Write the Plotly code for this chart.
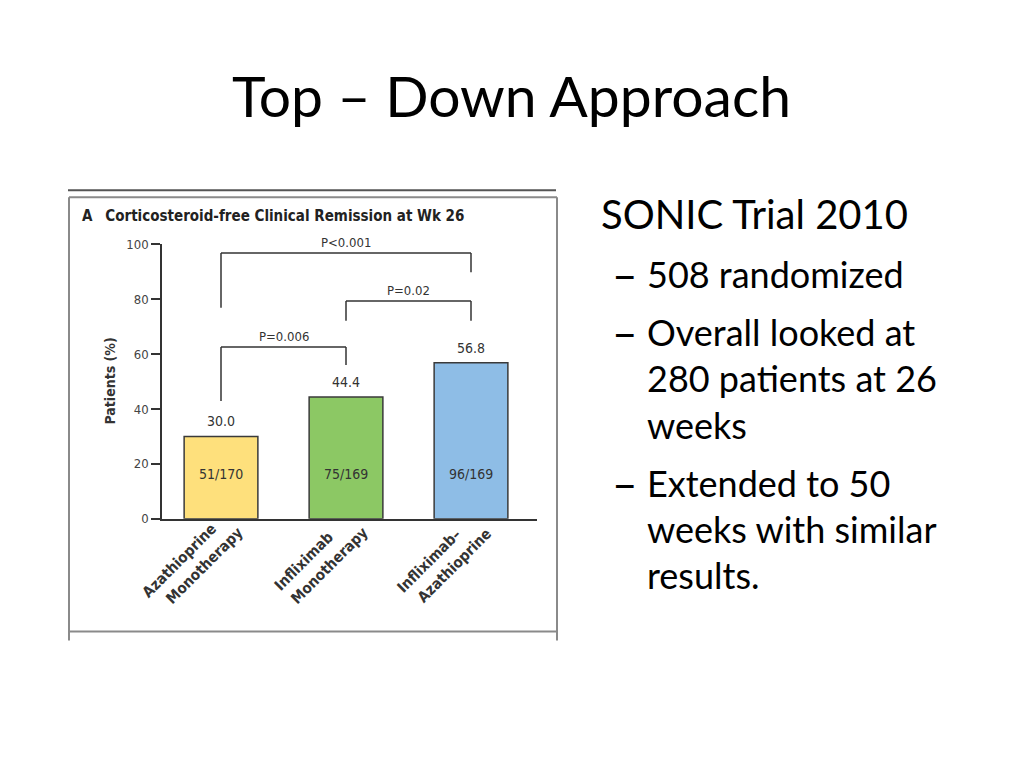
import plotly.graph_objects as go

# ---- data ----
categories = ["Azathioprine Monotherapy", "Infliximab Monotherapy", "Infliximab–Azathioprine"]
label_line1 = ["Azathioprine", "Infliximab", "Infliximab–"]
label_line2 = ["Monotherapy", "Monotherapy", "Azathioprine"]
remission_pct = [30.0, 44.4, 56.8]
counts = ["51/170", "75/169", "96/169"]
bar_colors = ["#FEE07C", "#8CC864", "#8EBDE6"]
y_ticks = [0, 20, 40, 60, 80, 100]

# comparisons: (left idx, right idx, top level, left leg end, right leg end, label)
comparisons = [
    (0, 1, 62.6, 42.9, 56.0, "P=0.006"),
    (1, 2, 79.3, 72.1, 72.1, "P=0.02"),
    (0, 2, 96.8, 76.9, 89.8, "P<0.001"),
]

slide_title = "Top – Down Approach"
heading = "SONIC Trial 2010"
bullets = [
    ["508 randomized"],
    ["Overall looked at", "280 patients at 26", "weeks"],
    ["Extended to 50", "weeks with similar", "results."],
]

W, H = 1024, 768
def px(x): return x / W
def py(y): return 1 - y / H

CH_FONT = "Liberation Sans Narrow, DejaVu Sans Condensed, Arial Narrow, sans-serif"
SL_FONT = "Lato, Carlito, Calibri, sans-serif"

x_idx = list(range(len(categories)))
UNIT = 125.0  # pixels per category step

fig = go.Figure()
fig.add_trace(go.Bar(
    x=x_idx, y=remission_pct, width=0.59,
    marker=dict(color=bar_colors, line=dict(color="#3a3a3a", width=1.5)),
    hoverinfo="skip", showlegend=False,
))

shapes = []
annotations = []

# value labels above bars and counts inside
for i, v in enumerate(remission_pct):
    annotations.append(dict(x=i, y=v, xref="x", yref="y", text=f"{v:.1f}",
                            showarrow=False, yanchor="bottom", yshift=5,
                            font=dict(family=CH_FONT, size=14, color="#333")))
    annotations.append(dict(x=i, y=16.4, xref="x", yref="y", text=counts[i],
                            showarrow=False, yanchor="middle",
                            font=dict(family=CH_FONT, size=14, color="#333")))

# brackets
for (a, b, top, la, rb, lab) in comparisons:
    for (x0, y0, x1, y1) in [(a, la, a, top), (a, top, b, top), (b, top, b, rb)]:
        shapes.append(dict(type="line", xref="x", yref="y", x0=x0, y0=y0, x1=x1, y1=y1,
                           line=dict(color="#333", width=1.5)))
    annotations.append(dict(x=(a + b) / 2, y=top, xref="x", yref="y", text=lab,
                            showarrow=False, yanchor="bottom", yshift=1,
                            font=dict(family=CH_FONT, size=13, color="#333")))

# category labels (rotated)
for i in x_idx:
    annotations.append(dict(x=i - 42 / UNIT, y=py(565), xref="x", yref="paper",
                            text=f"<b>{label_line1[i]}</b>", showarrow=False, textangle=-45,
                            xanchor="center", yanchor="middle",
                            font=dict(family=CH_FONT, size=15, color="#333")))
    annotations.append(dict(x=i - 17 / UNIT, y=py(570), xref="x", yref="paper",
                            text=f"<b>{label_line2[i]}</b>", showarrow=False, textangle=-45,
                            xanchor="center", yanchor="middle",
                            font=dict(family=CH_FONT, size=15, color="#333")))

# y-axis title
annotations.append(dict(x=px(100), y=py(382), xref="paper", yref="paper",
                        text="<b>Patients (%)</b>", showarrow=False, textangle=-90,
                        font=dict(family=CH_FONT, size=14, color="#333")))

# panel title
annotations.append(dict(x=px(80), y=py(213), xref="paper", yref="paper",
                        text="<b>A</b>   <b>Corticosteroid-free Clinical Remission at Wk 26</b>",
                        showarrow=False, xanchor="left", yanchor="middle",
                        font=dict(family=CH_FONT, size=15, color="#222")))

# frame
shapes.append(dict(type="line", xref="paper", yref="paper", x0=px(68), x1=px(556),
                   y0=py(187), y1=py(187), line=dict(color="#555", width=2)))
frame_col = "#8a8a8a"
for (x0, y0, x1, y1) in [(69, 194, 557, 194), (69, 194, 69, 646), (557, 194, 557, 646),
                         (69, 637, 557, 637)]:
    shapes.append(dict(type="line", xref="paper", yref="paper", x0=px(x0), x1=px(x1),
                       y0=py(y0), y1=py(y1), line=dict(color=frame_col, width=2)))

# slide title
annotations.append(dict(x=px(511), y=py(90), xref="paper", yref="paper", text=slide_title,
                        showarrow=False, xanchor="center", yanchor="middle",
                        font=dict(family=SL_FONT, size=57, color="#000")))

# right-hand text
annotations.append(dict(x=px(599), y=py(211), xref="paper", yref="paper", text=heading,
                        showarrow=False, xanchor="left", yanchor="middle",
                        font=dict(family=SL_FONT, size=40, color="#000")))
line_ys = [[272], [331, 378, 426], [485, 532, 579]]
for blines, ys in zip(bullets, line_ys):
    annotations.append(dict(x=px(610), y=py(ys[0]), xref="paper", yref="paper", text="–",
                            showarrow=False, xanchor="left", yanchor="middle",
                            font=dict(family=SL_FONT, size=44, color="#000")))
    for t, yy in zip(blines, ys):
        annotations.append(dict(x=px(645), y=py(yy), xref="paper", yref="paper", text=t,
                                showarrow=False, xanchor="left", yanchor="middle",
                                font=dict(family=SL_FONT, size=36, color="#000")))

x_left = (162 - 221) / UNIT
x_right = (537 - 221) / UNIT

fig.update_layout(
    width=W, height=H, margin=dict(l=0, r=0, t=0, b=0),
    paper_bgcolor="white", plot_bgcolor="white",
    shapes=shapes, annotations=annotations, showlegend=False,
    xaxis=dict(domain=[px(162), px(537)], range=[x_left, x_right],
               showticklabels=False, ticks="", showgrid=False, zeroline=False,
               showline=True, linecolor="#333", linewidth=1.5, fixedrange=True),
    yaxis=dict(domain=[py(522), py(242)], range=[0, 100], tickvals=y_ticks,
               ticks="outside", ticklen=9, tickwidth=1.5, tickcolor="#333",
               showline=True, linecolor="#333", linewidth=1.5, showgrid=False, zeroline=False,
               tickfont=dict(family=CH_FONT, size=13, color="#444"), fixedrange=True),
)

fig.write_html("out.html", config={"displayModeBar": False},
               post_script="document.body.style.margin='0';document.body.style.padding='0';")
